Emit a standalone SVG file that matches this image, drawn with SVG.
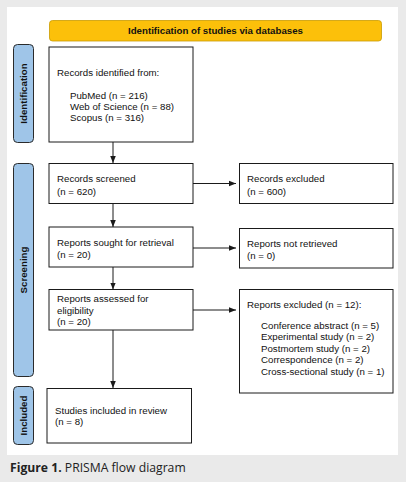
<svg xmlns="http://www.w3.org/2000/svg" width="406" height="482" viewBox="0 0 406 482">
<defs>
<style>
.box{fill:#fff;stroke:#1a1a1a;stroke-width:1}
.lbl{fill:#9fc5e8;stroke:#2b2b2b;stroke-width:1}
.t{font-family:"Liberation Sans",Arial,sans-serif;font-size:9.7px;fill:#111}
.b{font-weight:bold}
.edge{stroke:#1a1a1a;stroke-width:1;fill:none;marker-end:url(#ah)}
.cap{font-family:"Open Sans",sans-serif;font-size:12.2px;fill:#222}
</style>
<marker id="ah" viewBox="0 0 10 10" refX="10" refY="5" markerWidth="7" markerHeight="7" markerUnits="userSpaceOnUse" orient="auto">
<path d="M0,1 L10,5 L0,9 z" fill="#1a1a1a"/>
</marker>
</defs>
<rect x="0" y="0" width="406" height="482" fill="#eaeaea"/>
<rect x="7" y="7" width="391" height="448" fill="#fff"/>

<g id="header">
<rect x="49.5" y="20.5" width="332" height="20.5" rx="3" fill="#fcc00a" stroke="#c99a00" stroke-width="0.8"/>
<text class="t b" x="215.5" y="34.3" text-anchor="middle">Identification of studies via databases</text>
</g>

<g id="lbl-identification">
<rect class="lbl" x="13.5" y="44.5" width="20" height="98" rx="4"/>
<text class="t b" transform="translate(27,93.5) rotate(-90)" text-anchor="middle">Identification</text>
</g>
<g id="lbl-screening">
<rect class="lbl" x="13.5" y="163.5" width="20" height="213" rx="4"/>
<text class="t b" transform="translate(27,270) rotate(-90)" text-anchor="middle">Screening</text>
</g>
<g id="lbl-included">
<rect class="lbl" x="13.5" y="386.5" width="20" height="58" rx="4"/>
<text class="t b" transform="translate(27,415.5) rotate(-90)" text-anchor="middle">Included</text>
</g>

<g id="n-identified">
<rect class="box" x="49" y="47" width="144" height="95"/>
<text class="t" x="57" y="75.5">Records identified from:</text>
<text class="t" x="70" y="98.5">PubMed (n = 216)</text>
<text class="t" x="70" y="109.5">Web of Science (n = 88)</text>
<text class="t" x="70" y="120.5">Scopus (n = 316)</text>
</g>

<g id="n-screened">
<rect class="box" x="49" y="163.5" width="144" height="40"/>
<text class="t" x="57" y="181.5">Records screened</text>
<text class="t" x="57" y="194.5">(n = 620)</text>
</g>
<g id="n-excluded">
<rect class="box" x="239.5" y="163.5" width="153.5" height="40"/>
<text class="t" x="247" y="181.5">Records excluded</text>
<text class="t" x="247" y="194.5">(n = 600)</text>
</g>

<g id="n-sought">
<rect class="box" x="49" y="227" width="144" height="40"/>
<text class="t" x="57" y="245.5">Reports sought for retrieval</text>
<text class="t" x="57" y="257.5">(n = 20)</text>
</g>
<g id="n-notretrieved">
<rect class="box" x="239.5" y="228.5" width="153.5" height="39.5"/>
<text class="t" x="247" y="246.5">Reports not retrieved</text>
<text class="t" x="247" y="258.5">(n = 0)</text>
</g>

<g id="n-assessed">
<rect class="box" x="49" y="289.5" width="144" height="40.5"/>
<text class="t" x="57" y="301.5">Reports assessed for</text>
<text class="t" x="57" y="313.5">eligibility</text>
<text class="t" x="57" y="325">(n = 20)</text>
</g>
<g id="n-reportsexcluded">
<rect class="box" x="239.5" y="289.5" width="153.5" height="103.5"/>
<text class="t" x="247" y="307.5">Reports excluded (n = 12):</text>
<text class="t" x="261" y="328.5">Conference abstract (n = 5)</text>
<text class="t" x="261" y="340">Experimental study (n = 2)</text>
<text class="t" x="261" y="351.5">Postmortem study (n = 2)</text>
<text class="t" x="261" y="363">Correspondence (n = 2)</text>
<text class="t" x="261" y="374.5">Cross-sectional study (n = 1)</text>
</g>

<g id="n-included">
<rect class="box" x="47" y="388.5" width="144.5" height="54.5"/>
<text class="t" x="55" y="413.5">Studies included in review</text>
<text class="t" x="55" y="425">(n = 8)</text>
</g>

<g id="connectors">
<line class="edge" x1="113" y1="142" x2="113" y2="163"/>
<line class="edge" x1="113" y1="203.5" x2="113" y2="227"/>
<line class="edge" x1="113" y1="267" x2="113" y2="289.5"/>
<line class="edge" x1="113" y1="330" x2="113" y2="388"/>
<line class="edge" x1="193" y1="183.5" x2="236" y2="183.5"/>
<line class="edge" x1="193" y1="248" x2="236" y2="248"/>
<line class="edge" x1="193" y1="310" x2="236" y2="310"/>
</g>

<text class="cap" x="10" y="471.5"><tspan font-weight="bold">Figure 1.</tspan> PRISMA flow diagram</text>
</svg>
